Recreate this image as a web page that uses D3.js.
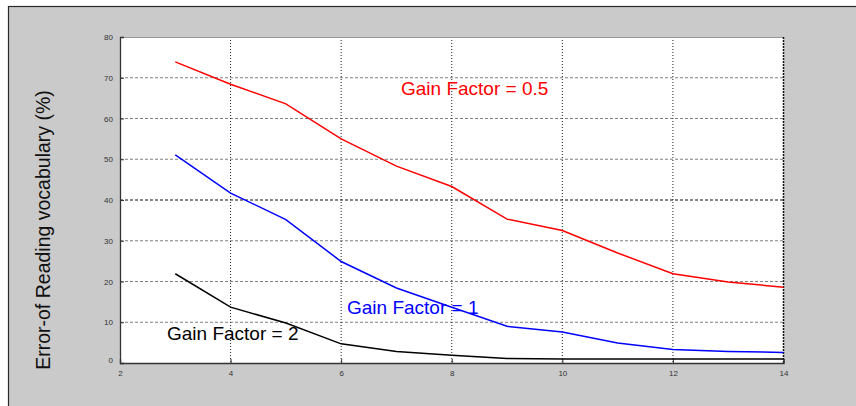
<!DOCTYPE html>
<html lang="en">
<head>
    <meta charset="UTF-8">
    <title>Error of Reading vocabulary</title>
    <script src="https://d3js.org/d3.v7.min.js"></script>
    <style>
        body { margin: 0; background: #fff; }
        svg text { font-family: "Liberation Sans", Arial, sans-serif; }
    </style>
</head>
<body>
<script>
    // data
    const xValues = [3, 4, 5, 6, 7, 8, 9, 10, 11, 12, 13, 14];
    const gainHalf = [73.9, 68.4, 63.6, 55.0, 48.3, 43.3, 35.3, 32.5, 27.0, 21.9, 19.9, 18.6];
    const gainOne = [51.1, 41.7, 35.2, 24.9, 18.4, 13.7, 9.0, 7.6, 4.9, 3.3, 2.8, 2.6];
    const gainTwo = [21.9, 13.7, 9.8, 4.7, 2.8, 1.9, 1.1, 1.0, 1.0, 1.0, 1.0, 1.0];
    const xTicks = [2, 4, 6, 8, 10, 12, 14];
    const yTicks = [0, 10, 20, 30, 40, 50, 60, 70, 80];
    const seriesNames = ['Gain Factor = 0.5', 'Gain Factor = 1', 'Gain Factor = 2'];
    const seriesColors = ['#ff0000', '#0000ff', '#000000'];

    const width = 856, height = 406;
    const margin = {left: 120, top: 37, right: 72.5, bottom: 43};
    const plotW = width - margin.left - margin.right;
    const plotH = height - margin.top - margin.bottom;

    const svg = d3.select('body').append('svg')
        .attr('width', width)
        .attr('height', height);

    // figure background + frame
    svg.append('rect')
        .attr('x', 8.5).attr('y', 6.5)
        .attr('width', width).attr('height', height)
        .attr('fill', '#cacaca')
        .attr('stroke', '#2a2a2a')
        .attr('stroke-width', 1.2);

    const x = d3.scaleLinear().domain([2, 14]).range([0, plotW]);
    const y = d3.scaleLinear().domain([0, 80]).range([plotH, 0]);

    const g = svg.append('g')
        .attr('transform', `translate(${margin.left},${margin.top})`);

    g.append('rect')
        .attr('width', plotW).attr('height', plotH)
        .attr('fill', '#fff');

    // grid lines
    g.selectAll('.hgrid')
        .data(yTicks.filter(d => d > 0 && d < 80))
        .enter().append('line')
        .attr('x1', 0).attr('x2', plotW)
        .attr('y1', d => y(d)).attr('y2', d => y(d))
        .attr('stroke', d => d === 40 ? '#111' : '#808080')
        .attr('stroke-width', 1)
        .attr('stroke-dasharray', '3,2');

    g.selectAll('.vgrid')
        .data(xTicks.filter(d => d > 2 && d < 14))
        .enter().append('line')
        .attr('x1', d => x(d)).attr('x2', d => x(d))
        .attr('y1', 0).attr('y2', plotH)
        .attr('stroke', '#222')
        .attr('stroke-width', 1)
        .attr('stroke-dasharray', '1,2');

    // box
    g.append('line').attr('x1', 0).attr('x2', plotW).attr('y1', 0.5).attr('y2', 0.5)
        .attr('stroke', '#999');
    g.append('line').attr('x1', plotW).attr('x2', plotW).attr('y1', 0).attr('y2', plotH)
        .attr('stroke', '#111').attr('stroke-width', 1.5).attr('stroke-dasharray', '2,1');

    // axes
    const yAxis = g.append('g')
        .call(d3.axisLeft(y).tickValues(yTicks).tickSize(-4).tickPadding(7));
    const xAxis = g.append('g')
        .attr('transform', `translate(0,${plotH})`)
        .call(d3.axisBottom(x).tickValues(xTicks).tickSize(-4).tickPadding(7));

    [xAxis, yAxis].forEach(a => {
        a.select('.domain').attr('stroke', '#333').attr('stroke-width', 1.3);
        a.selectAll('.tick line').attr('stroke', '#333');
        a.selectAll('text').attr('fill', '#333').style('font-size', '8px');
    });
    yAxis.selectAll('.tick text').filter(d => d === 0).attr('dy', '-0.1em');

    // lines
    const line = d3.line()
        .x((d, i) => x(xValues[i]))
        .y(d => y(d));

    [gainHalf, gainOne, gainTwo].forEach((s, i) => {
        g.append('path')
            .datum(s)
            .attr('d', line)
            .attr('fill', 'none')
            .attr('stroke', seriesColors[i])
            .attr('stroke-width', 1.5);
    });

    // labels on the curves
    const labelPos = [[401, 94.5], [347, 313.5], [167, 339.5]];
    seriesNames.forEach((name, i) => {
        svg.append('text')
            .attr('x', labelPos[i][0])
            .attr('y', labelPos[i][1])
            .attr('fill', seriesColors[i])
            .style('font-size', '19px')
            .text(name);
    });

    // y axis title
    svg.append('text')
        .attr('transform', 'translate(50,230) rotate(-90)')
        .attr('text-anchor', 'middle')
        .attr('fill', '#111')
        .style('font-size', '19.5px')
        .text('Error-of Reading vocabulary (%)');
</script>
</body>
</html>
